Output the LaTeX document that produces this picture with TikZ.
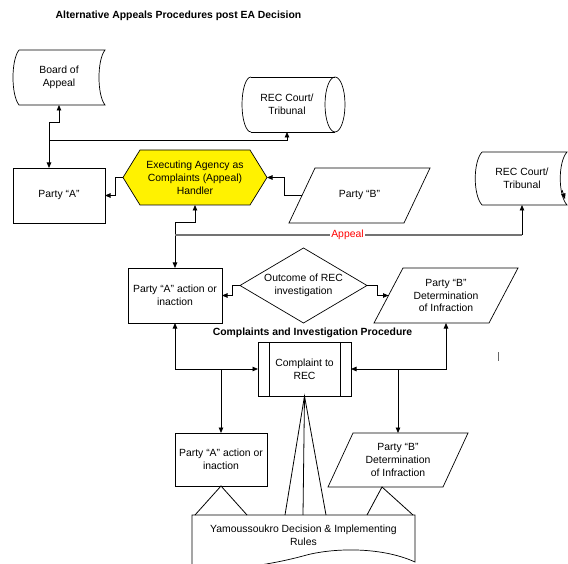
\documentclass[tikz,border=0pt]{standalone}
\usepackage{fontspec}
\setmainfont{Liberation Sans}
\usetikzlibrary{shapes.geometric,arrows.meta,calc}
\begin{document}
\begin{tikzpicture}[x=1pt,y=-1pt]
\tikzset{
 txt/.style={font=\fontsize{10.4}{12.8}\selectfont, align=center, inner sep=0pt, outer sep=0pt},
 shp/.style={draw=black, line width=0.7pt},
 con/.style={draw=black, line width=0.8pt},
 tip/.style={con, -{Triangle[length=5.5pt,width=4.5pt]}},
 tips/.style={con, {Triangle[length=5.5pt,width=4.5pt]}-{Triangle[length=5.5pt,width=4.5pt]}},
 appealline/.style={draw=black!55, line width=1.3pt}
}
\useasboundingbox (0,0) rectangle (568,564);

% title
\node[txt, anchor=base, font=\fontsize{10.4}{12}\selectfont\bfseries] (title) at (178.5,18.5) {Alternative Appeals Procedures post EA Decision};

% Board of Appeal (stored data)
\draw[shp] (19,50) -- (105,50) .. controls (97,60) and (97,95) .. (105,105) -- (19,105) .. controls (11,95) and (11,60) .. (19,50);
\node[txt, minimum width=86pt, minimum height=55pt] (boa) at (59,77.5) {Board of\\Appeal};

% REC Court top (cylinder)
\draw[shp] (251,77) -- (335,77);
\draw[shp] (251,132) -- (335,132);
\draw[shp] (335,104.5) ellipse [x radius=10pt, y radius=27.5pt];
\draw[shp] (251,77) .. controls (246.03,77) and (242,89.31) .. (242,104.5) .. controls (242,119.69) and (246.03,132) .. (251,132);
\node[txt, minimum width=90pt, minimum height=55pt] (rec1) at (287,104.5) {REC Court/\\Tribunal};

% Party A
\node[txt, shp, minimum width=92pt, minimum height=55pt] (pa) at (59,195.5) {Party “A”};

% Executing agency hexagon
\draw[shp, fill=yellow] (123,177.5) -- (140,150) -- (250,150) -- (267,177.5) -- (250,205) -- (140,205) -- cycle;
\node[txt, minimum width=144pt, minimum height=55pt] (ea) at (195,177.5) {Executing Agency as\\Complaints (Appeal)\\Handler};

% Party B
\node[txt, minimum width=141pt, minimum height=55pt] (pb) at (359.5,195.5) {Party “B”};
\draw[shp] (pb.south west) -- ($(pb.north west)+(26,0)$) -- (pb.north east) -- ($(pb.south east)+(-26,0)$) -- cycle;

% REC Court right (stored data)
\draw[shp] (482,152) -- (567,152) .. controls (558,162) and (558,195) .. (567,205) -- (482,205) .. controls (473,195) and (473,162) .. (482,152);
\node[txt, minimum width=85pt, minimum height=53pt] (rec2) at (522,178.5) {REC Court/\\Tribunal};
\draw[tip] (562,190) -- (565,199);

% Party A action (upper)
\node[txt, shp, minimum width=94pt, minimum height=55pt] (paa1) at (175,295.5) {Party “A” action or\\inaction};

% Outcome diamond
\node[txt, shp, diamond, aspect=1.69, minimum width=127pt, minimum height=75pt] (out) at (303.5,285.5) {Outcome of REC\\investigation};

% Party B determination (upper)
\node[txt, minimum width=144pt, minimum height=55pt] (pbu) at (446,295.5) {Party “B”\\Determination\\of Infraction};
\draw[shp] (pbu.south west) -- ($(pbu.north west)+(29,0)$) -- (pbu.north east) -- ($(pbu.south east)+(-29,0)$) -- cycle;

% subtitle
\node[txt, font=\fontsize{10.4}{12}\selectfont\bfseries] (cip) at (312.5,333) {Complaints and Investigation Procedure};

% Complaint to REC
\node[txt, shp, minimum width=93pt, minimum height=54pt] (cr) at (304.5,369) {Complaint to\\REC};
\draw[shp] ($(cr.north west)+(11,0)$) -- ($(cr.south west)+(11,0)$);
\draw[shp] ($(cr.north east)+(-11,0)$) -- ($(cr.south east)+(-11,0)$);

% Party A action (lower)
\node[txt, shp, minimum width=92pt, minimum height=53pt] (paa2) at (221,459.5) {Party “A” action or\\inaction};

% Party B determination (lower)
\node[txt, minimum width=140pt, minimum height=54pt] (pbl) at (398,460) {Party “B”\\Determination\\of Infraction};
\draw[shp] (pbl.south west) -- ($(pbl.north west)+(25,0)$) -- (pbl.north east) -- ($(pbl.south east)+(-25,0)$) -- cycle;

% Yamoussoukro document
\node[txt, minimum width=223pt, minimum height=40pt] (ym) at (303.5,535) {Yamoussoukro Decision \& Implementing\\Rules};
\draw[shp] (ym.north west) -- (ym.north east) -- (415,562) .. controls (380,546) and (330,548) .. (303,556) .. controls (262,567) and (215,572) .. (192,566) -- cycle;

% ties to document
\draw[con] ($(ym.north west)+(3,0)$) -- (paa2.south) -- ($(ym.north west)+(55,0)$);
\draw[con] ($(ym.north west)+(175,0)$) -- ($(pbl.south)+(-16,0)$) -- ($(ym.north west)+(221,0)$);
\draw[con] ($(ym.north west)+(93,0)$) -- (cr.south) -- ($(ym.north west)+(134,0)$);
\draw[con] (cr.south) -- ($(ym.north west)+(111,0)$);

% connectors top part
\draw[tips] (boa.south) -- ++(0,17) -| ($(pa.north)+(-10,0)$);
\draw[tip] ($(pa.north)+(-10,-28)$) -| (rec1.south);
\draw[tip] (ea.west) -- ++(-8,0) |- (pa.east);
\draw[tip] ($(pb.west)+(13,0)$) -- ++(-17.5,0) |- (ea.east);
\draw[tips] (ea.south) -- ++(0,17) -| (paa1.north);

% appeal line
\coordinate (apc) at ($(paa1.north)+(0,-33)$);
\draw[appealline] (apc) -- (rec2.south |- apc);
\draw[tip] (rec2.south |- apc) -- (rec2.south);
\node[txt, fill=white, text=red, inner sep=1pt] (ap) at (347.5,234.5) {Appeal};

% middle connectors
\draw[tip] (out.west) -- ++(-8,0) |- (paa1.east);
\draw[tip] (out.east) -- ++(10,0) |- ($(pbu.west)+(14.5,0)$);
\draw[tips] (paa1.south) |- (cr.west);
\draw[tip] (paa2.north |- cr.west) -- (paa2.north);
\draw[tips] (cr.east) -| (pbu.south);
\draw[tip] (pbl.north |- cr.east) -- (pbl.north);

% stray mark
\draw[black!60, line width=1pt] (498.5,352) -- (498.5,361);
\end{tikzpicture}
\end{document}
